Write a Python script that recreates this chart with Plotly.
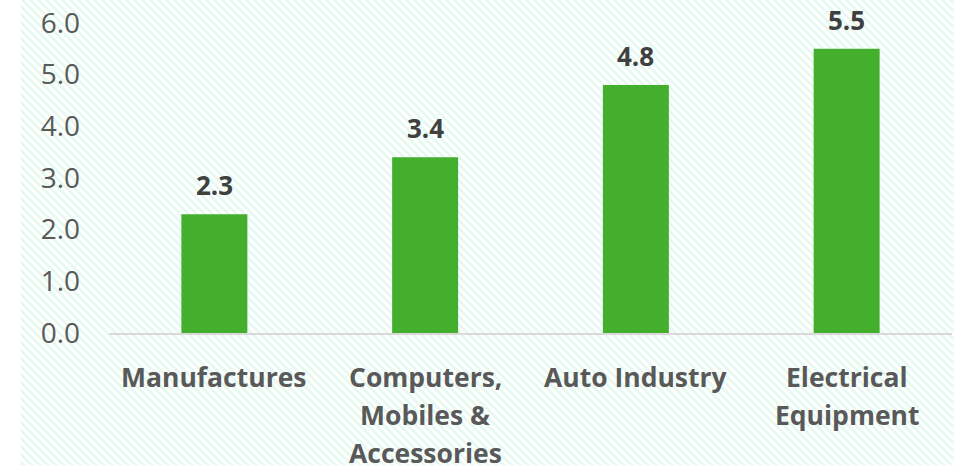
import base64
import plotly.graph_objects as go

# Export growth by sector
categories = ["Manufactures", "Computers, Mobiles & Accessories", "Auto Industry", "Electrical Equipment"]
values = [2.3, 3.4, 4.8, 5.5]
value_labels = ["2.3", "3.4", "4.8", "5.5"]
category_lines = [
    ["Manufactures"],
    ["Computers,", "Mobiles &", "Accessories"],
    ["Auto Industry"],
    ["Electrical", "Equipment"],
]
y_ticks = [0, 1, 2, 3, 4, 5, 6]
y_tick_text = ["0.0", "1.0", "2.0", "3.0", "4.0", "5.0", "6.0"]

W, H = 954, 465
ML, MR, MT, MB = 109, 2, 23, 132
PW, PH = W - ML - MR, H - MT - MB

BAR = "#43AF2C"
LABEL = "#595959"
VALUE = "#404040"
FONT = "Open Sans"

# Mint diagonal hatch background (8x8 tile, stripes running down-right)
tile = []
for r in range(8):
    for k in range(4):
        c = (r + k) % 8
        tile.append(f'<rect x="{c}" y="{r}" width="1" height="1" fill="#E6FAF2"/>')
bg_w, bg_h = W - 21, H
svg = (
    f'<svg xmlns="http://www.w3.org/2000/svg" width="{bg_w}" height="{bg_h}" shape-rendering="crispEdges">'
    '<defs><pattern id="p" width="8" height="8" patternUnits="userSpaceOnUse">'
    + "".join(tile)
    + '</pattern></defs>'
    f'<rect width="{bg_w}" height="{bg_h}" fill="#FFFFFF"/>'
    f'<rect width="{bg_w}" height="{bg_h}" fill="url(#p)"/></svg>'
)
bg_src = "data:image/svg+xml;base64," + base64.b64encode(svg.encode()).decode()

fig = go.Figure(
    go.Bar(
        x=categories,
        y=values,
        marker=dict(color=BAR, line=dict(width=0)),
        hoverinfo="skip",
    )
)

annotations = []
for cat, v, t in zip(categories, values, value_labels):
    annotations.append(dict(
        x=cat, y=v, xref="x", yref="y", text=f"<b>{t}</b>", showarrow=False,
        yanchor="middle", yshift=29,
        font=dict(family=FONT, size=26, color=VALUE),
    ))
for cat, lines in zip(categories, category_lines):
    for i, line in enumerate(lines):
        annotations.append(dict(
            x=cat, y=0, xref="x", yref="paper", text=f"<b>{line}</b>", showarrow=False,
            yanchor="middle", yshift=-(44 + 38 * i),
            font=dict(family=FONT, size=26.5, color=LABEL),
        ))

fig.update_layout(
    width=W, height=H,
    margin=dict(l=ML, r=MR, t=MT, b=MB, pad=0),
    paper_bgcolor="#FFFFFF",
    plot_bgcolor="rgba(0,0,0,0)",
    bargap=0.687,
    showlegend=False,
    annotations=annotations,
    images=[dict(
        source=bg_src, xref="paper", yref="paper",
        x=(21 - ML) / PW, y=(H - MB) / PH,
        sizex=bg_w / PW, sizey=bg_h / PH,
        xanchor="left", yanchor="top", sizing="stretch", layer="below",
    )],
    xaxis=dict(
        showticklabels=False, showgrid=False, zeroline=False,
        showline=True, linecolor="#D9D9D9", linewidth=2, ticks="",
    ),
    yaxis=dict(
        range=[0, 6], tickvals=y_ticks, ticktext=y_tick_text,
        showgrid=False, zeroline=False, showline=False, ticks="",
        ticklabelstandoff=28,
        tickfont=dict(family=FONT, size=28, color=LABEL),
    ),
)

fig.write_html("out.html")
